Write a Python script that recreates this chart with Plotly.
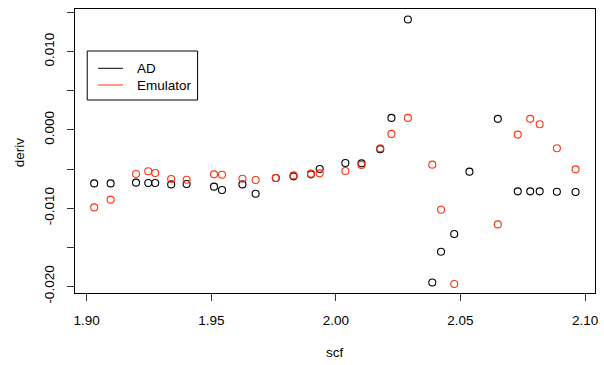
import plotly.graph_objects as go

# Data
scf = [1.9030, 1.9096, 1.9198, 1.9247, 1.9275, 1.9339, 1.9401, 1.9511, 1.9543, 1.9625,
       1.9678, 1.9759, 1.9830, 1.9900, 1.9935, 2.0038, 2.0103, 2.0178, 2.0223, 2.0289,
       2.0387, 2.0422, 2.0475, 2.0536, 2.0650, 2.0730, 2.0780, 2.0818, 2.0887, 2.0962]
ad = [-0.00683, -0.00683, -0.00674, -0.00678, -0.00678, -0.00696, -0.00691, -0.00725, -0.00767, -0.00696,
      -0.00815, -0.00614, -0.00593, -0.00568, -0.00499, -0.00422, -0.00427, -0.00248, 0.00153, 0.01410,
      -0.01949, -0.01556, -0.01330, -0.00533, 0.00141, -0.00785, -0.00785, -0.00785, -0.00789, -0.00793]
emulator = [-0.00990, -0.00891, -0.00563, -0.00529, -0.00550, -0.00627, -0.00636, -0.00568, -0.00572, -0.00623,
            -0.00639, -0.00614, -0.00581, -0.00559, -0.00555, -0.00524, -0.00448, -0.00235, -0.00051, 0.00153,
            -0.00444, -0.01019, -0.01969, None, -0.01207, -0.00060, 0.00141, 0.00072, -0.00235, -0.00504]

x_ticks = [1.90, 1.95, 2.00, 2.05, 2.10]
y_ticks = [-0.020, -0.015, -0.010, -0.005, 0.000, 0.005, 0.010, 0.015]
y_labels = ["-0.020", "", "-0.010", "", "0.000", "", "0.010", ""]

RED = "#FF3311"
FONT = "Liberation Sans, Arial, Helvetica, sans-serif"
FS = 13.5

W, H = 604, 365
L, R, T, B = 75, 6, 9, 72
PW, PH = W - L - R, H - T - B

def px(x):
    return (x - L) / PW

def py(y):
    return (H - B - y) / PH

fig = go.Figure()
fig.add_trace(go.Scatter(x=scf, y=ad, mode="markers", name="AD",
                         marker=dict(symbol="circle-open", size=7, color="black", line=dict(width=1.1)),
                         showlegend=False, cliponaxis=True))
fig.add_trace(go.Scatter(x=scf, y=emulator, mode="markers", name="Emulator",
                         marker=dict(symbol="circle-open", size=7, color=RED, line=dict(width=1.1)),
                         showlegend=False, cliponaxis=True))

axis_common = dict(showgrid=False, zeroline=False, showline=True, mirror=True,
                   linecolor="black", linewidth=1, ticks="outside", ticklen=7,
                   tickwidth=1, tickcolor="#333333",
                   tickfont=dict(family=FONT, size=FS, color="black"))

fig.update_xaxes(range=[1.8953, 2.1040], tickvals=x_ticks,
                 ticktext=[f"{v:.2f}" for v in x_ticks], ticklabelstandoff=8, **axis_common)
fig.update_yaxes(range=[-0.02083, 0.01544], tickvals=y_ticks, ticktext=y_labels,
                 tickangle=-90, ticklabelstandoff=8, **axis_common)

# Legend drawn as in the reference (box, line keys, labels)
shapes = [
    dict(type="rect", xref="paper", yref="paper", x0=px(87.3), x1=px(198.3), y0=py(100), y1=py(51),
         line=dict(color="black", width=1), fillcolor="white", layer="above"),
    dict(type="line", xref="paper", yref="paper", x0=px(98.3), x1=px(123.3), y0=py(68.3), y1=py(68.3),
         line=dict(color="black", width=1)),
    dict(type="line", xref="paper", yref="paper", x0=px(98.3), x1=px(123.3), y0=py(85), y1=py(85),
         line=dict(color=RED, width=1)),
]
annotations = [
    dict(text="AD", xref="paper", yref="paper", x=px(135), y=py(68.3), xanchor="left", yanchor="middle",
         showarrow=False, font=dict(family=FONT, size=FS, color="black")),
    dict(text="Emulator", xref="paper", yref="paper", x=px(135), y=py(85), xanchor="left", yanchor="middle",
         showarrow=False, font=dict(family=FONT, size=FS, color="black")),
    dict(text="scf", xref="paper", yref="paper", x=px(337), y=py(352), xanchor="center", yanchor="middle",
         showarrow=False, font=dict(family=FONT, size=FS, color="black")),
    dict(text="deriv", xref="paper", yref="paper", x=px(19), y=py(152), xanchor="center", yanchor="middle",
         textangle=-90, showarrow=False, font=dict(family=FONT, size=FS, color="black")),
]

fig.update_layout(width=W, height=H, margin=dict(l=L, r=R, t=T, b=B),
                  plot_bgcolor="white", paper_bgcolor="white",
                  shapes=shapes, annotations=annotations, showlegend=False,
                  font=dict(family=FONT, size=FS, color="black"))

fig.write_html("out.html")
